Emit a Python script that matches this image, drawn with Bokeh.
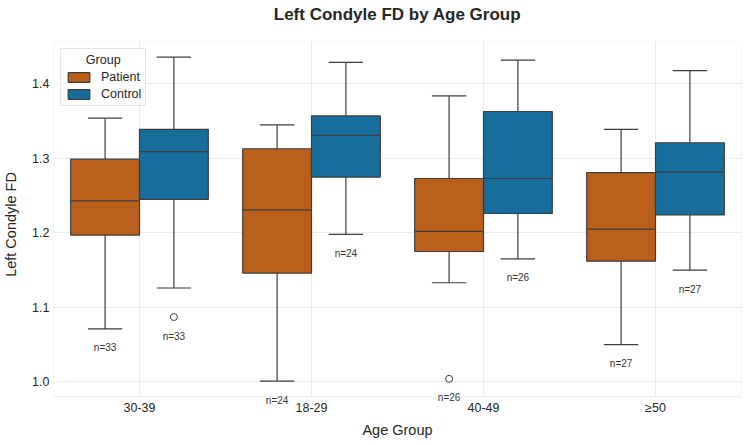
from bokeh.plotting import figure
from bokeh.models import (FactorRange, ColumnDataSource, Legend, LegendItem, LabelSet,
                          FixedTicker, Title, NumeralTickFormatter, BoxAnnotation)
from bokeh.core.properties import value
from bokeh.transform import dodge
from bokeh.embed import file_html
from bokeh.resources import INLINE

# ---- data ----
age_groups = ["30-39", "18-29", "40-49", "≥50"]

pat_lo  = [1.071, 1.001, 1.133, 1.050]
pat_q1  = [1.197, 1.146, 1.175, 1.162]
pat_med = [1.243, 1.231, 1.202, 1.205]
pat_q3  = [1.299, 1.313, 1.273, 1.281]
pat_hi  = [1.354, 1.345, 1.384, 1.339]
pat_n   = [33, 24, 26, 27]
pat_out_grp = ["40-49"]
pat_out_val = [1.004]

ctl_lo  = [1.126, 1.198, 1.165, 1.150]
ctl_q1  = [1.245, 1.275, 1.226, 1.224]
ctl_med = [1.309, 1.331, 1.273, 1.282]
ctl_q3  = [1.339, 1.357, 1.363, 1.321]
ctl_hi  = [1.436, 1.429, 1.432, 1.418]
ctl_n   = [33, 24, 26, 27]
ctl_out_grp = ["30-39"]
ctl_out_val = [1.087]

Y_VISIBLE_MIN = 0.980   # lower edge of the drawn axes box
Y_MAX = 1.457

PAT_COLOR = "#B9601C"
CTL_COLOR = "#176D9C"
EDGE = "#3d3d3d"
FONT = "Liberation Sans"

# frame extends slightly below the drawn box so that the n= labels just under it stay visible
p = figure(width=750, height=445, x_range=FactorRange(*age_groups), y_range=(0.9655, Y_MAX),
           output_backend="svg", toolbar_location=None,
           min_border_left=10, min_border_right=9, min_border_top=41, min_border_bottom=38)

# spacer (closest to the frame) then the real title above it
p.add_layout(Title(text=" ", text_font_size="14px", standoff=0), "above")
p.add_layout(Title(text="Left Condyle FD by Age Group", align="center", text_font=FONT,
                   text_font_size="17px", text_font_style="bold", text_color="#262626",
                   standoff=0), "above")

# white cover for the strip below the drawn box (hides grid lines there)
p.add_layout(BoxAnnotation(top=Y_VISIBLE_MIN, fill_color="white", fill_alpha=1.0,
                           line_color=None, level="underlay"))

def draw(offset, lo, q1, med, q3, hi, n, out_grp, out_val, color):
    mins = []
    for i in range(len(age_groups)):
        m = lo[i]
        for g, v in zip(out_grp, out_val):
            if g == age_groups[i]:
                m = min(m, v)
        mins.append(m)
    src = ColumnDataSource(dict(cat=age_groups, lo=lo, q1=q1, med=med, q3=q3, hi=hi,
                                lab=[f"n={k}" for k in n], laby=[m - 0.0255 for m in mins]))
    xc = dodge("cat", offset, range=p.x_range)
    p.segment(x0=xc, y0="q3", x1=xc, y1="hi", source=src, line_color=EDGE, line_width=1.2)
    p.segment(x0=xc, y0="lo", x1=xc, y1="q1", source=src, line_color=EDGE, line_width=1.2)
    p.segment(x0=dodge("cat", offset - 0.1, range=p.x_range), y0="hi",
              x1=dodge("cat", offset + 0.1, range=p.x_range), y1="hi",
              source=src, line_color=EDGE, line_width=1.2)
    p.segment(x0=dodge("cat", offset - 0.1, range=p.x_range), y0="lo",
              x1=dodge("cat", offset + 0.1, range=p.x_range), y1="lo",
              source=src, line_color=EDGE, line_width=1.2)
    box = p.vbar(x=xc, width=0.4, bottom="q1", top="q3", source=src,
                 fill_color=color, line_color=EDGE, line_width=1.2)
    p.segment(x0=dodge("cat", offset - 0.2, range=p.x_range), y0="med",
              x1=dodge("cat", offset + 0.2, range=p.x_range), y1="med",
              source=src, line_color=EDGE, line_width=1.2)
    osrc = ColumnDataSource(dict(cat=out_grp, v=out_val))
    p.scatter(x=dodge("cat", offset, range=p.x_range), y="v", source=osrc, marker="circle",
              size=7, fill_color="white", line_color=EDGE, line_width=1)
    lbl = LabelSet(x=xc, y="laby", text="lab", source=src, text_align="center",
                   text_baseline="middle", text_font_size="10px", text_color="#333333",
                   text_font=value(FONT), level="overlay")
    p.add_layout(lbl)
    return box

b1 = draw(-0.2, pat_lo, pat_q1, pat_med, pat_q3, pat_hi, pat_n, pat_out_grp, pat_out_val, PAT_COLOR)
b2 = draw(0.2, ctl_lo, ctl_q1, ctl_med, ctl_q3, ctl_hi, ctl_n, ctl_out_grp, ctl_out_val, CTL_COLOR)

# drawn axes box
p.add_layout(BoxAnnotation(bottom=Y_VISIBLE_MIN, fill_alpha=0, line_color="#cccccc",
                           line_width=1.2, level="overlay"))

legend = Legend(items=[LegendItem(label="Patient", renderers=[b1]),
                       LegendItem(label="Control", renderers=[b2])],
                location="top_left", title="      Group", margin=7, padding=4, spacing=3,
                glyph_width=27, glyph_height=12, label_standoff=9,
                label_text_font=FONT, label_text_font_size="12.5px",
                title_text_font=FONT, title_text_font_size="12.5px", title_text_font_style="normal",
                title_text_color="#262626", label_text_color="#262626", title_standoff=3,
                border_line_color="#cccccc", border_line_width=1, background_fill_alpha=1.0)
p.add_layout(legend)

p.yaxis.ticker = FixedTicker(ticks=[1.0, 1.1, 1.2, 1.3, 1.4])
p.yaxis.formatter = NumeralTickFormatter(format="0.0")

for ax in (p.xaxis, p.yaxis):
    ax.axis_line_color = None
    ax.major_tick_line_color = None
    ax.minor_tick_line_color = None
    ax.major_tick_out = 0
    ax.major_tick_in = 0
    ax.major_label_text_font = FONT
    ax.major_label_text_font_size = "12.5px"
    ax.major_label_text_color = "#262626"
    ax.axis_label_text_font = FONT
    ax.axis_label_text_font_size = "14.5px"
    ax.axis_label_text_font_style = "normal"
    ax.axis_label_text_color = "#262626"

p.xaxis.axis_label = "Age Group"
p.yaxis.axis_label = "Left Condyle FD"
p.xaxis.major_label_standoff = -7
p.yaxis.major_label_standoff = 4
p.xaxis.axis_label_standoff = 4
p.yaxis.axis_label_standoff = 10

p.xgrid.grid_line_color = "#ebebeb"
p.ygrid.grid_line_color = "#ebebeb"
p.outline_line_color = None
p.background_fill_color = "white"
p.border_fill_color = "white"

open("out.html", "w").write(file_html(p, INLINE))
